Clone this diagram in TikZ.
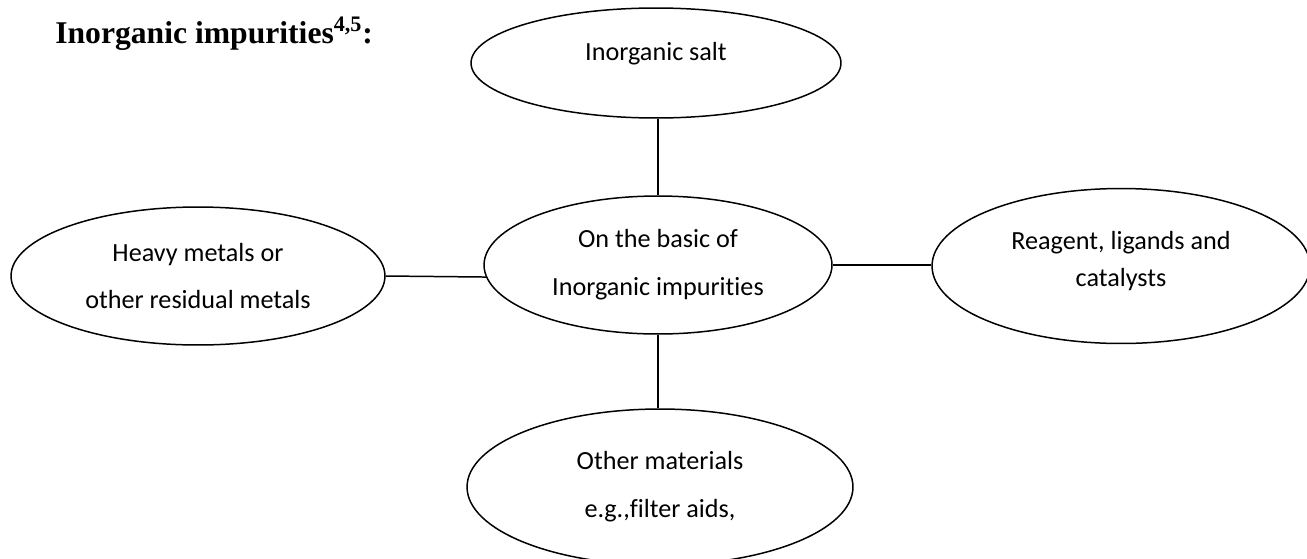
\documentclass[tikz,border=0pt]{standalone}
\usepackage{fontspec}
\setmainfont{Carlito}[Ligatures={NoCommon,NoContextual}]
\newfontfamily\titlefont{Liberation Serif}
\usetikzlibrary{shapes.geometric}

\tikzset{
  bubble/.style={ellipse, draw, line width=0.85pt, inner sep=0pt, align=center,
    font=\fontsize{14.9}{27.2}\selectfont},
  link/.style={line width=0.85pt}
}

\begin{document}
\begin{tikzpicture}[x=0.02cm, y=-0.02cm]
\useasboundingbox (0,0) rectangle (1307,558);
\clip (0,0) rectangle (1307,558);

% Title
\node[anchor=base west, inner sep=0pt, font=\titlefont\bfseries\fontsize{18}{20}\selectfont] (T) at (55,43) {Inorganic impurities\textsuperscript{4,5}:};

% Ellipses
\node[bubble, minimum width=7.4cm, minimum height=2.2cm, text height=0.35cm, text depth=0.45cm] (S) at (656,63) {Inorganic salt};
\node[bubble, minimum width=6.96cm, minimum height=2.76cm] (C) at (658,265) {On the basic of\\Inorganic impurities};
\node[bubble, minimum width=7.48cm, minimum height=2.76cm] (M) at (198,276) {Heavy metals or\\other residual metals};
\node[bubble, minimum width=7.56cm, minimum height=3.1cm, text depth=0.3cm, font=\fontsize{14.9}{21}\selectfont] (R) at (1121,266) {Reagent, ligands and\\catalysts};
\node[bubble, minimum width=7.72cm, minimum height=3.12cm] (O) at (660,487) {Other materials\\e.g.,filter aids,};

% Connectors
\draw[link] (S.south -| C.north) -- (C.north);
\draw[link] (M.east) -- (C.184);
\draw[link] (C.east) -- (C.east -| R.west);
\draw[link] (C.south) -- (C.south |- O.north);
\end{tikzpicture}
\end{document}
